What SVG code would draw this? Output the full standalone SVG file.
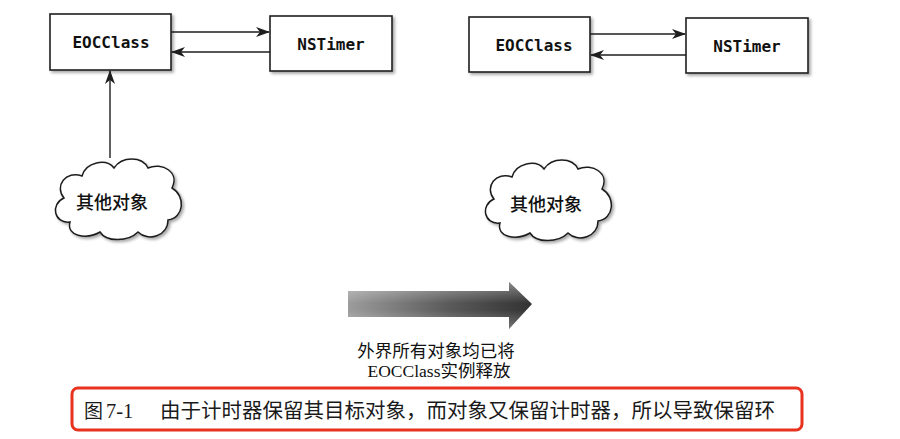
<svg xmlns="http://www.w3.org/2000/svg" width="900" height="439" viewBox="0 0 900 439">
  <defs>
    <style>
      .box { fill: #ffffff; stroke: #1e1e1e; stroke-width: 1.6; filter: url(#shadow); }
      .cloud { fill: #ffffff; stroke: #1e1e1e; stroke-width: 1.5; filter: url(#shadow); }
      .lbl { font-family: "DejaVu Sans Mono", "Liberation Mono", monospace; font-weight: bold; font-size: 16px; fill: #111; text-anchor: middle; }
      .cn { font-family: "Noto Sans CJK SC", sans-serif; font-size: 18px; font-weight: 500; fill: #111; text-anchor: middle; }
      .conn { stroke: #1e1e1e; stroke-width: 1.4; fill: none; marker-end: url(#ah); }
      .note { font-family: "Liberation Serif", "Noto Sans CJK SC", serif; font-size: 17.5px; fill: #111; text-anchor: middle; }
      .cap { font-family: "Liberation Serif", "Noto Sans CJK SC", serif; font-size: 20.5px; fill: #1a1a1a; }
    </style>
    <filter id="shadow" x="-10%" y="-10%" width="130%" height="140%">
      <feDropShadow dx="2" dy="2" stdDeviation="1.5" flood-color="#000" flood-opacity="0.35"/>
    </filter>
    <marker id="ah" viewBox="0 0 14 10" refX="13" refY="5" markerWidth="14" markerHeight="10" markerUnits="userSpaceOnUse" orient="auto">
      <path d="M0,0 L14,5 L0,10 L4,5 Z" fill="#1e1e1e"/>
    </marker>
    <path id="cloudShape" d="M 18 64 C 2 66, -2 46, 12 40 C 2 28, 14 12, 30 18 C 34 4, 54 0, 62 10 C 70 -2, 90 -2, 96 10 C 110 4, 128 14, 120 30 C 134 38, 132 60, 116 62 C 116 78, 96 84, 86 74 C 76 84, 54 84, 48 74 C 34 82, 14 78, 18 64 Z"/>
    <linearGradient id="gh" x1="0" y1="0" x2="1" y2="0">
      <stop offset="0" stop-color="#9c9c9c"/>
      <stop offset="0.55" stop-color="#5a5a5a"/>
      <stop offset="1" stop-color="#333333"/>
    </linearGradient>
    <linearGradient id="gv" x1="0" y1="0" x2="0" y2="1">
      <stop offset="0" stop-color="#ffffff" stop-opacity="0.4"/>
      <stop offset="0.45" stop-color="#ffffff" stop-opacity="0"/>
      <stop offset="0.6" stop-color="#ffffff" stop-opacity="0"/>
      <stop offset="1" stop-color="#ffffff" stop-opacity="0.3"/>
    </linearGradient>
  </defs>
  <rect width="900" height="439" fill="#ffffff"/>

  <!-- Left scene -->
  <g id="eoc-left">
    <rect class="box" x="50" y="14" width="121" height="56"/>
    <text class="lbl" x="111" y="48">EOCClass</text>
  </g>
  <g id="timer-left">
    <rect class="box" x="270" y="16" width="122" height="55"/>
    <text class="lbl" x="331" y="50">NSTimer</text>
  </g>
  <g id="cloud-left">
    <use href="#cloudShape" class="cloud" transform="translate(52,158)"/>
    <text class="cn" x="112" y="209">其他对象</text>
  </g>

  <!-- Right scene -->
  <g id="eoc-right">
    <rect class="box" x="469" y="17" width="121" height="55"/>
    <text class="lbl" x="534" y="51">EOCClass</text>
  </g>
  <g id="timer-right">
    <rect class="box" x="686" y="18" width="122" height="55"/>
    <text class="lbl" x="747" y="52">NSTimer</text>
  </g>
  <g id="cloud-right">
    <use href="#cloudShape" class="cloud" transform="translate(482,159)"/>
    <text class="cn" x="546" y="211">其他对象</text>
  </g>

  <g id="connectors">
    <line class="conn" x1="171" y1="32" x2="269" y2="32"/>
    <line class="conn" x1="270" y1="52" x2="172" y2="52"/>
    <line class="conn" x1="110" y1="158" x2="110" y2="71"/>
    <line class="conn" x1="590" y1="34" x2="685" y2="34"/>
    <line class="conn" x1="686" y1="55" x2="591" y2="55"/>
  </g>

  <g id="transition">
    <polygon points="348,291 509,291 509,282 532,304 509,329 509,317 348,317" fill="url(#gh)"/>
    <polygon points="348,291 509,291 509,282 532,304 509,329 509,317 348,317" fill="url(#gv)"/>
    <text class="note" x="436" y="357">外界所有对象均已将</text>
    <text class="note" x="439" y="377">EOCClass实例释放</text>
  </g>

  <g id="caption">
    <rect x="72" y="388" width="730" height="42" rx="6" ry="6" fill="#ffffff" stroke="#e8321e" stroke-width="3"/>
    <text class="cap" y="418"><tspan x="84" font-size="19">图</tspan><tspan x="106">7-1</tspan><tspan x="160">由于计时器保留其目标对象，而对象又保留计时器，所以导致保留环</tspan></text>
  </g>
</svg>
